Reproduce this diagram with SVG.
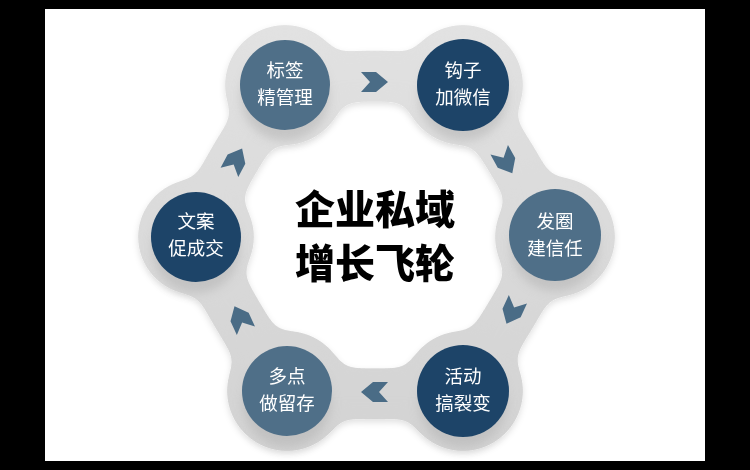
<svg xmlns="http://www.w3.org/2000/svg" width="750" height="470" viewBox="0 0 750 470">
<defs>
  <linearGradient id="bandGrad" gradientUnits="userSpaceOnUse" x1="0" y1="20" x2="0" y2="460">
    <stop offset="0" stop-color="#e2e2e2"/>
    <stop offset="1" stop-color="#d2d2d2"/>
  </linearGradient>
  <filter id="goo" x="-10%" y="-10%" width="120%" height="120%">
    <feGaussianBlur in="SourceGraphic" stdDeviation="9" result="b"/>
    <feColorMatrix in="b" type="matrix" values="1 0 0 0 0  0 1 0 0 0  0 0 1 0 0  0 0 0 24 -11" result="g"/>
    <feDropShadow dx="0" dy="3" stdDeviation="3" flood-color="#000" flood-opacity="0.12"/>
  </filter>
  <filter id="soft" x="-30%" y="-30%" width="160%" height="160%">
    <feGaussianBlur stdDeviation="5"/>
  </filter>
  <polygon id="chev" points="-14,-10 1,-10 13,0 1,10 -14,10 -5,0"/>
  <style>
    .light { fill: #4f6f88; }
    .dark { fill: #1d4468; }
    .chev { fill: #4a6c86; }
    .shade { fill: #b5b5b5; opacity: 0.6; }
    .lbl { font-family: "Noto Sans CJK SC", "Noto Sans", sans-serif; font-size: 18.5px; fill: #ffffff; text-anchor: middle; }
    .title { font-family: "Noto Sans CJK SC", "Noto Sans", sans-serif; font-size: 40px; font-weight: 900; fill: #000000; text-anchor: middle; }
  </style>
</defs>
<rect x="0" y="0" width="750" height="470" fill="#000"/>
<rect x="45" y="9" width="660" height="452" fill="#fff"/>

<g id="band" filter="url(#goo)" fill="url(#bandGrad)">
  <path d="M285,85 Q375,67 463,85 Q515,159 555,237 Q515,312 463,391 Q375,397 287,391 Q234.5,318 196,237 Q227.5,159 285,85 Z" fill="none" stroke="url(#bandGrad)" stroke-width="50"/>
  <circle cx="285" cy="85" r="60"/>
  <circle cx="463" cy="85" r="60"/>
  <circle cx="555" cy="237" r="60"/>
  <circle cx="463" cy="391" r="60"/>
  <circle cx="287" cy="391" r="60"/>
  <circle cx="196" cy="237" r="58"/>
</g>

<g id="shadows" filter="url(#soft)">
  <ellipse class="shade" cx="285" cy="97" rx="44" ry="44"/>
  <ellipse class="shade" cx="463" cy="97" rx="44" ry="44"/>
  <ellipse class="shade" cx="555" cy="247" rx="44" ry="44"/>
  <ellipse class="shade" cx="463" cy="403" rx="44" ry="44"/>
  <ellipse class="shade" cx="287" cy="403" rx="44" ry="44"/>
  <ellipse class="shade" cx="196" cy="249" rx="44" ry="44"/>
</g>

<g id="connectors">
  <use href="#chev" class="chev" transform="translate(375,82)"/>
  <use href="#chev" class="chev" transform="translate(506,162) rotate(61)"/>
  <use href="#chev" class="chev" transform="translate(512,312) rotate(115)"/>
  <use href="#chev" class="chev" transform="translate(374,392) rotate(180)"/>
  <use href="#chev" class="chev" transform="translate(240,318) rotate(-115)"/>
  <use href="#chev" class="chev" transform="translate(236,160) rotate(-62)"/>
</g>

<g id="node-biaoqian">
  <circle class="light" cx="285" cy="85" r="45"/>
  <text class="lbl" x="285" y="77">标签<tspan x="285" dy="27">精管理</tspan></text>
</g>
<g id="node-gouzi">
  <circle class="dark" cx="463" cy="85" r="46"/>
  <text class="lbl" x="463" y="77">钩子<tspan x="463" dy="27">加微信</tspan></text>
</g>
<g id="node-faquan">
  <circle class="light" cx="555" cy="235" r="46"/>
  <text class="lbl" x="555" y="228">发圈<tspan x="555" dy="27">建信任</tspan></text>
</g>
<g id="node-huodong">
  <circle class="dark" cx="463" cy="391" r="46"/>
  <text class="lbl" x="463" y="383">活动<tspan x="463" dy="27">搞裂变</tspan></text>
</g>
<g id="node-duodian">
  <circle class="light" cx="287" cy="391" r="45"/>
  <text class="lbl" x="287" y="383">多点<tspan x="287" dy="27">做留存</tspan></text>
</g>
<g id="node-wenan">
  <circle class="dark" cx="196" cy="237" r="45"/>
  <text class="lbl" x="196" y="228">文案<tspan x="196" dy="27">促成交</tspan></text>
</g>

<g id="title">
  <text class="title" x="375" y="224">企业私域<tspan x="375" dy="54">增长飞轮</tspan></text>
</g>
</svg>
